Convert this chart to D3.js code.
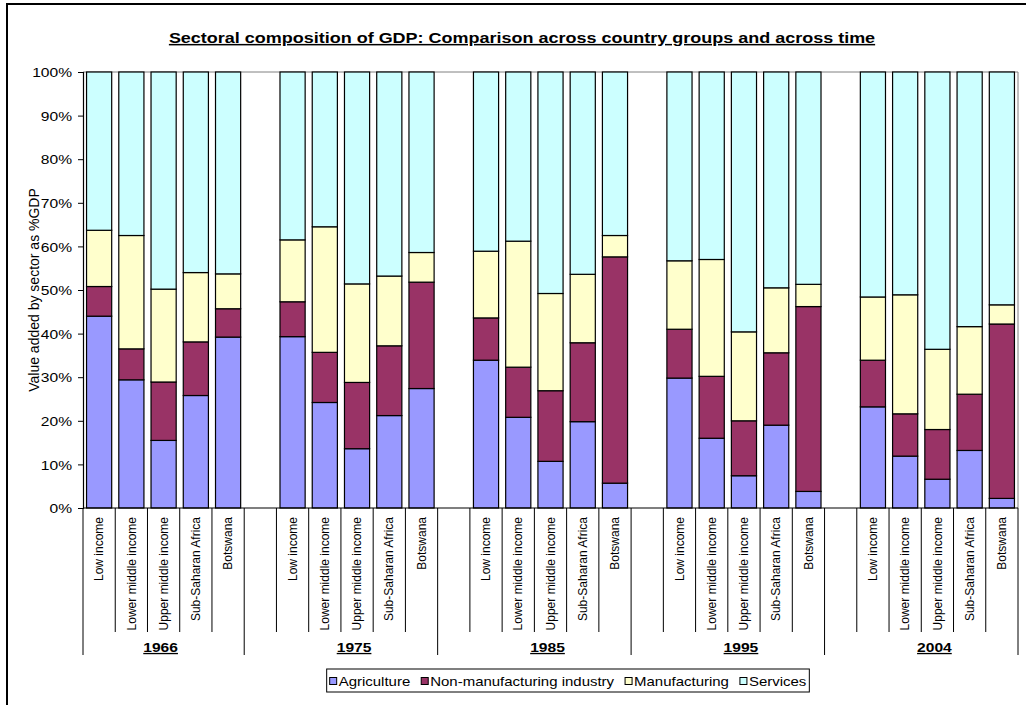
<!DOCTYPE html>
<html>
<head>
<meta charset="utf-8">
<script src="https://cdn.jsdelivr.net/npm/d3@7"></script>
<style>
  html, body { margin: 0; padding: 0; background: #fff; }
  svg { display: block; font-family: Arial, "Liberation Sans", sans-serif; }
</style>
</head>
<body>
<svg id="chart" width="1026" height="705"></svg>
<script>
// ---------------- data ----------------
const years = ["1966", "1975", "1985", "1995", "2004"];
const categories = ["Low income", "Lower middle income", "Upper middle income", "Sub-Saharan Africa", "Botswana"];
const sectors = ["Agriculture", "Non-manufacturing industry", "Manufacturing", "Services"];
const sectorColors = ["#9999FF", "#993366", "#FFFFCC", "#CCFFFF"];
const yTicks = [0, 10, 20, 30, 40, 50, 60, 70, 80, 90, 100];

// values per (year, category), year-major order
const agriculture      = [44.0, 29.4, 15.5, 25.8, 39.2,  39.3, 24.2, 13.6, 21.2, 27.4,  33.9, 20.8, 10.7, 19.8, 5.7,   29.8, 16.0, 7.4, 19.0, 3.8,   23.2, 11.9, 6.6, 13.2, 2.2];
const nonManufacturing = [6.8, 7.1, 13.4, 12.3, 6.5,     8.0, 11.5, 15.2, 16.0, 24.4,   9.7, 11.5, 16.2, 18.1, 51.9,   11.2, 14.2, 12.6, 16.6, 42.4, 10.7, 9.7, 11.4, 12.9, 40.0];
const manufacturing    = [12.9, 26.0, 21.3, 15.9, 8.0,   14.2, 28.8, 22.6, 16.0, 6.8,   15.3, 28.9, 22.3, 15.7, 4.9,   15.7, 26.8, 20.4, 14.9, 5.1,  14.5, 27.3, 18.4, 15.5, 4.4];
const services         = [36.3, 37.5, 49.8, 46.0, 46.3,  38.5, 35.5, 48.6, 46.8, 41.4,  41.1, 38.8, 50.8, 46.4, 37.5,  43.3, 43.0, 59.6, 49.5, 48.7, 51.6, 51.1, 63.6, 58.4, 53.4];

// ---------------- build table ----------------
const rows = [];
years.forEach((yr, yi) => {
  categories.forEach((cat, ci) => {
    const i = yi * categories.length + ci;
    rows.push({
      slot: yr + "|" + cat, year: yr, cat: cat,
      "Agriculture": agriculture[i],
      "Non-manufacturing industry": nonManufacturing[i],
      "Manufacturing": manufacturing[i],
      "Services": services[i]
    });
  });
});
// category slots: a blank slot precedes every group but the first
const slots = [];
years.forEach((yr, yi) => {
  if (yi > 0) slots.push(yr + "|");
  categories.forEach(cat => slots.push(yr + "|" + cat));
});

// ---------------- layout ----------------
const svg = d3.select("#chart");
const plot = { left: 83, right: 1018, top: 72, bottom: 508 };
const HS = 1.2; // horizontal stretch of the original's text

const x = d3.scaleBand().domain(slots).range([plot.left, plot.right])
  .paddingInner(0.22).paddingOuter(0.11).align(0.5);
const step = x.step();
const y = d3.scaleLinear().domain([0, 100]).range([plot.bottom, plot.top]);
const color = d3.scaleOrdinal().domain(sectors).range(sectorColors);

// outer frame
svg.append("rect").attr("x", 7).attr("y", 4).attr("width", 1040).attr("height", 720)
  .attr("fill", "none").attr("stroke", "#000").attr("stroke-width", 2);

// title
const tg = svg.append("g").attr("transform", `translate(522,43) scale(${HS},1)`);
tg.append("text").attr("text-anchor", "middle").attr("font-size", 15).attr("font-weight", "bold")
  .attr("text-decoration", "underline")
  .text("Sectoral composition of GDP: Comparison across country groups and across time");

// plot area border (grey top & right)
svg.append("line").attr("x1", plot.left).attr("x2", plot.right).attr("y1", plot.top).attr("y2", plot.top)
  .attr("stroke", "#808080").attr("stroke-width", 1);
svg.append("line").attr("x1", plot.right).attr("x2", plot.right).attr("y1", plot.top).attr("y2", plot.bottom)
  .attr("stroke", "#808080").attr("stroke-width", 1);

// bars
const stack = d3.stack().keys(sectors);
const series = stack(rows);
svg.append("g").selectAll("g").data(series).join("g")
  .attr("fill", d => color(d.key))
  .selectAll("rect").data(d => d).join("rect")
  .attr("x", d => x(d.data.slot))
  .attr("width", x.bandwidth())
  .attr("y", d => y(d[1]))
  .attr("height", d => y(d[0]) - y(d[1]))
  .attr("stroke", "#000").attr("stroke-width", 1.2);

// y axis
const yAxis = svg.append("g").attr("transform", `translate(${plot.left},0)`)
  .call(d3.axisLeft(y).tickValues(yTicks).tickSize(5).tickFormat(d => d + "%"));
yAxis.select(".domain").attr("stroke", "#000").attr("stroke-width", 1.2);
yAxis.selectAll(".tick line").attr("stroke", "#000");
yAxis.selectAll(".tick text").remove();
yAxis.selectAll(".tick").append("g")
  .attr("transform", `translate(-11,4.7) scale(${HS},1)`)
  .append("text").attr("text-anchor", "end").attr("font-size", 13).attr("fill", "#000")
  .text(d => d + "%");

// y axis title
svg.append("text").attr("transform", `translate(39,${(plot.top + plot.bottom) / 2}) rotate(-90)`)
  .attr("text-anchor", "middle").attr("font-size", 14)
  .text("Value added by sector as %GDP");

// x axis line
svg.append("line").attr("x1", plot.left).attr("x2", plot.right).attr("y1", plot.bottom).attr("y2", plot.bottom)
  .attr("stroke", "#000").attr("stroke-width", 1.2);

// category separators (short) and group separators (long)
const slotStart = s => x(s) - (step - x.bandwidth()) / 2;
const sepG = svg.append("g").attr("stroke", "#000").attr("stroke-width", 1);
slots.forEach((s, i) => {
  const isGroupStart = (i === 0) || s.endsWith("|");
  sepG.append("line").attr("x1", slotStart(s)).attr("x2", slotStart(s))
    .attr("y1", plot.bottom).attr("y2", isGroupStart ? 655 : 632);
});
sepG.append("line").attr("x1", plot.right).attr("x2", plot.right).attr("y1", plot.bottom).attr("y2", 655);

// category labels
svg.append("g").selectAll("text").data(rows).join("text")
  .attr("transform", d => `translate(${x(d.slot) + x.bandwidth() / 2},517) rotate(-90)`)
  .attr("text-anchor", "end").attr("dy", "0.35em").attr("font-size", 12)
  .text(d => d.cat);

// group labels
years.forEach(yr => {
  const first = x(yr + "|" + categories[0]) - (step - x.bandwidth()) / 2;
  const last = x(yr + "|" + categories[categories.length - 1]) + x.bandwidth() + (step - x.bandwidth()) / 2;
  const cx = (first + last) / 2 - 3;
  svg.append("g").attr("transform", `translate(${cx},652) scale(${HS},1)`)
    .append("text").attr("text-anchor", "middle").attr("font-size", 13).attr("font-weight", "bold")
    .attr("text-decoration", "underline").text(yr);
});

// legend
const lg = svg.append("g");
const lgBox = lg.append("rect").attr("fill", "#fff").attr("stroke", "#000").attr("stroke-width", 1);
const items = lg.append("g");
const gap = 11;
const LHS = 1.17;
let cursor = 0;
sectors.forEach((s, i) => {
  const it = items.append("g").attr("transform", `translate(${cursor},0)`);
  it.append("rect").attr("x", 0).attr("y", -8.5).attr("width", 7).attr("height", 7)
    .attr("fill", color(s)).attr("stroke", "#000").attr("stroke-width", 1);
  const t = it.append("g").attr("transform", `translate(9,0) scale(${LHS},1)`)
    .append("text").attr("font-size", 12.8).text(s);
  const w = t.node().getComputedTextLength() * LHS;
  cursor += 9 + w + gap;
});
const totalW = cursor - gap;
const lgCx = 568, lgBase = 686;
items.attr("transform", `translate(${lgCx - totalW / 2},${lgBase})`);
lgBox.attr("x", lgCx - totalW / 2 - 3).attr("y", 669).attr("width", totalW + 6).attr("height", 23);
</script>
</body>
</html>
